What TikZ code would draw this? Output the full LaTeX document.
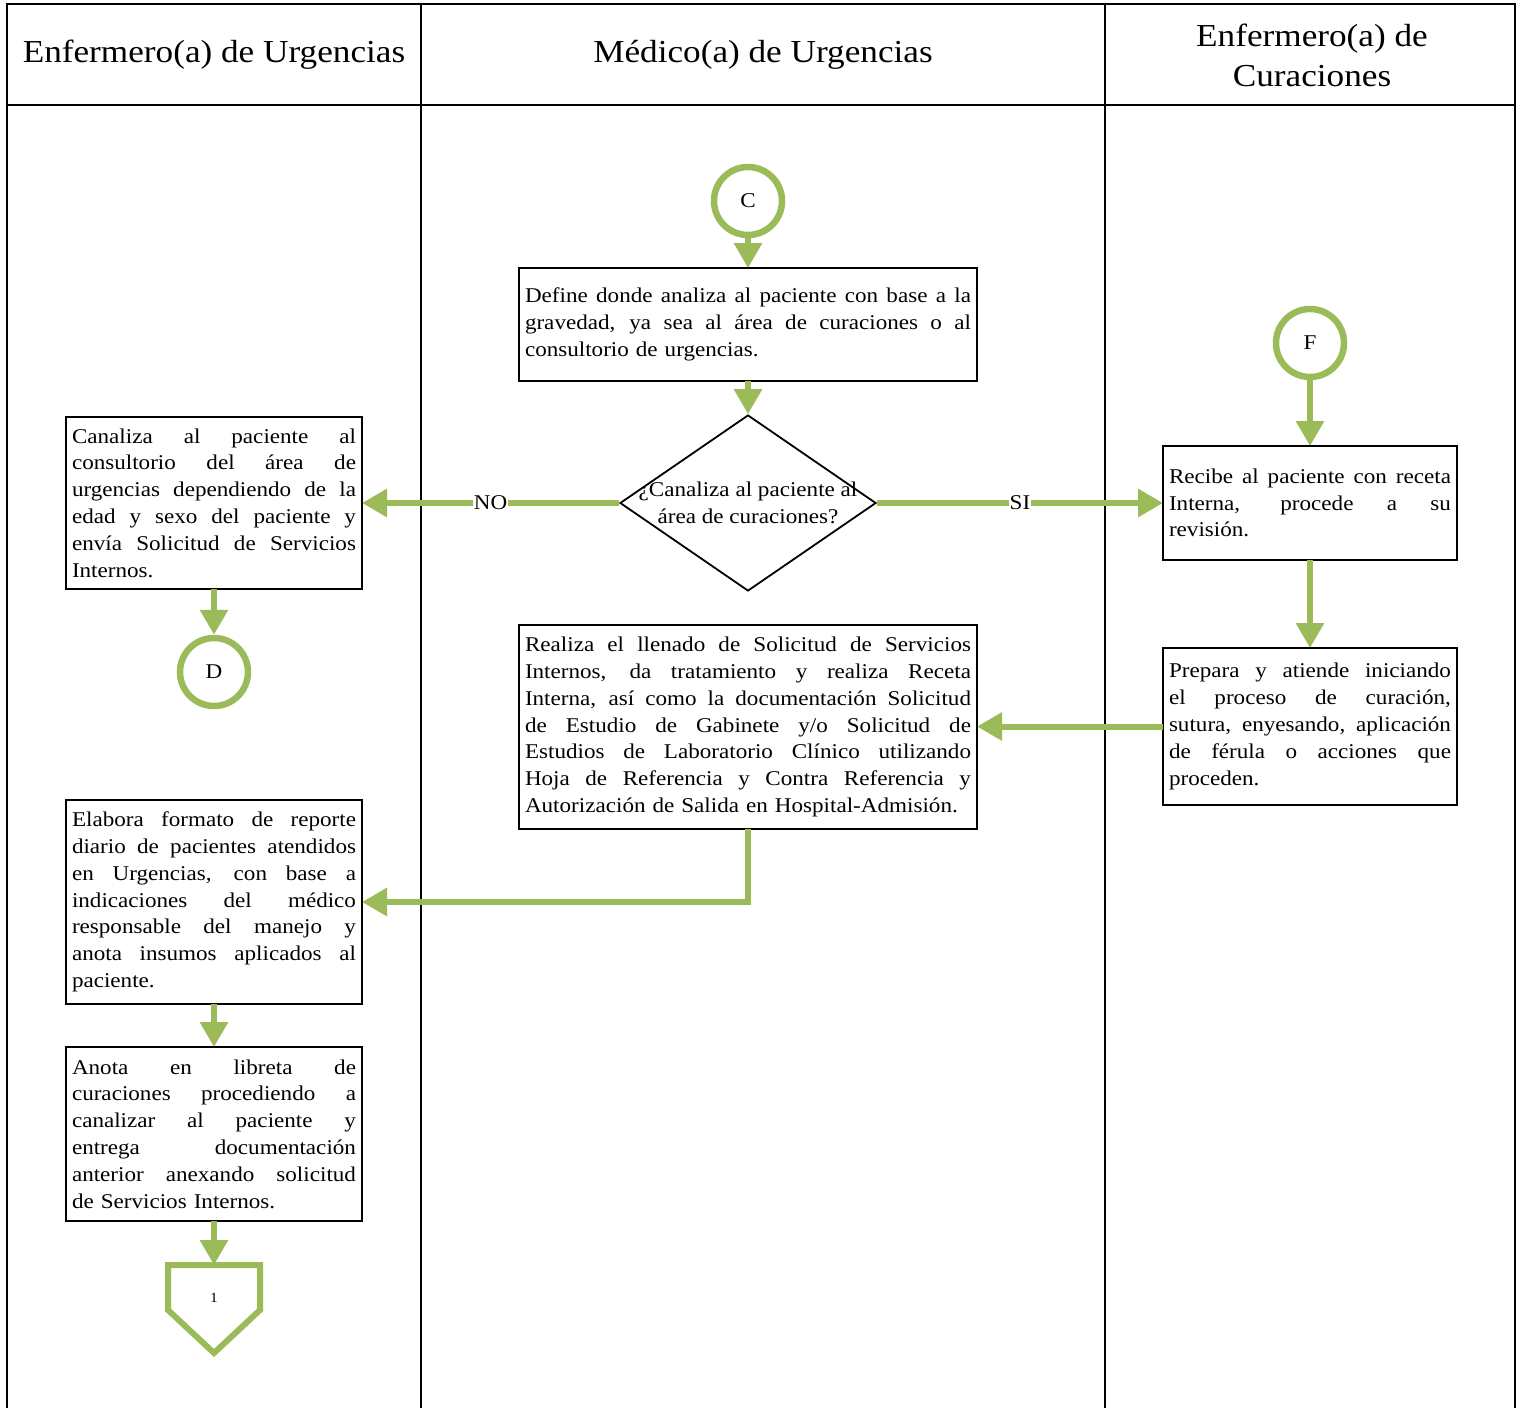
\documentclass[tikz,border=0pt]{standalone}
\usepackage{fontspec}
\setmainfont{Liberation Serif}[FakeStretch=1.1]
\usetikzlibrary{arrows.meta,shapes.geometric}
\definecolor{lgreen}{HTML}{9BBB59}
\newcommand\bodyfont{\fontsize{21}{26.8}\selectfont}
\newcommand\headfont{\fontsize{32}{40}\selectfont}
\newcommand\jl[1]{\hbox to\hsize{\spaceskip=\fontdimen2\font plus 1fil minus \fontdimen4\font\relax #1}}
\newcommand\lastl[1]{\hbox to\hsize{#1\hfil}}
\tikzset{
  box/.style={draw, line width=2.5pt, anchor=north west, outer sep=0pt, inner xsep=6pt, inner ysep=0pt,
              align=left, font=\bodyfont},
  conn/.style={draw=lgreen, line width=6pt, -{Triangle[width=27pt,length=25pt]}},
  circ/.style={circle, draw=lgreen, line width=6.5pt, minimum size=68pt, inner sep=0pt, font=\bodyfont},
  lane/.style={line width=2pt},
  lbl/.style={fill=white, inner sep=1pt, font=\bodyfont},
  head/.style={font=\headfont, align=center},
}
\begin{document}
\begin{tikzpicture}[x=1pt,y=-1pt]
\useasboundingbox (0,0) rectangle (1521,1408);
% swimlanes
\draw[lane] (7,1410) -- (7,4) -- (1515,4) -- (1515,1410);
\draw[lane] (7,105) -- (1515,105);
\draw[lane] (421,4) -- (421,1410);
\draw[lane] (1105,4) -- (1105,1410);
\node[head] (h1) at (214,55) {Enfermero(a) de Urgencias};
\node[head] (h2) at (763,55) {Médico(a) de Urgencias};
\node[head] (h3) at (1312,55) {Enfermero(a) de\\Curaciones};

% nodes
\node[circ] (C) at (748,201) {C};
\node[box, text width=446pt, minimum height=113pt] (define) at (519,268) {\vbox{%
\jl{Define donde analiza al paciente con base a la}%
\jl{gravedad, ya sea al área de curaciones o al}%
\lastl{consultorio de urgencias.}}};
\node[diamond, draw, line width=1.8pt, minimum width=256pt, minimum height=176pt, inner sep=0pt] (dec) at (748,503) {};
\node[font=\bodyfont, align=center] (dectext) at (748,503) {¿Canaliza al paciente al\\área de curaciones?};

\node[box, text width=284pt, minimum height=172pt] (canal) at (66,417) {\vbox{%
\jl{Canaliza al paciente al}%
\jl{consultorio del área de}%
\jl{urgencias dependiendo de la}%
\jl{edad y sexo del paciente y}%
\jl{envía Solicitud de Servicios}%
\lastl{Internos.}}};
\node[circ] (D) at (214,672) {D};

\node[circ] (F) at (1310,343) {F};
\node[box, text width=282pt, minimum height=114pt] (recibe) at (1163,446) {\vbox{%
\jl{Recibe al paciente con receta}%
\jl{Interna, procede a su}%
\lastl{revisión.}}};
\node[box, text width=282pt, minimum height=157pt] (prepara) at (1163,648) {\vbox{%
\jl{Prepara y atiende iniciando}%
\jl{el proceso de curación,}%
\jl{sutura, enyesando, aplicación}%
\jl{de férula o acciones que}%
\lastl{proceden.}}};

\node[box, text width=446pt, minimum height=204pt] (realiza) at (519,625) {\vbox{%
\jl{Realiza el llenado de Solicitud de Servicios}%
\jl{Internos, da tratamiento y realiza Receta}%
\jl{Interna, así como la documentación Solicitud}%
\jl{de Estudio de Gabinete y/o Solicitud de}%
\jl{Estudios de Laboratorio Clínico utilizando}%
\jl{Hoja de Referencia y Contra Referencia y}%
\lastl{Autorización de Salida en Hospital-Admisión.}}};

\node[box, text width=284pt, minimum height=204pt] (elabora) at (66,800) {\vbox{%
\jl{Elabora formato de reporte}%
\jl{diario de pacientes atendidos}%
\jl{en Urgencias, con base a}%
\jl{indicaciones del médico}%
\jl{responsable del manejo y}%
\jl{anota insumos aplicados al}%
\lastl{paciente.}}};
\node[box, text width=284pt, minimum height=174pt] (anota) at (66,1047) {\vbox{%
\jl{Anota en libreta de}%
\jl{curaciones procediendo a}%
\jl{canalizar al paciente y}%
\jl{entrega documentación}%
\jl{anterior anexando solicitud}%
\lastl{de Servicios Internos.}}};

% off-page connector
\coordinate (pTop) at (214,1265);
\draw[draw=lgreen, line width=6pt, line join=miter]
  (168,1265) -- (260,1265) -- (260,1310) -- (214,1353) -- (168,1310) -- cycle;
\node[font=\fontsize{14}{16}\selectfont] (one) at (214,1298) {1};

% connectors
\draw[conn] (C) -- (C |- define.north);
\draw[conn] (define.south -| dec.north) -- (dec.north);
\draw[conn] (dec.west) -- node[lbl] {NO} (canal.east |- dec.west);
\draw[conn] (dec.east) -- node[lbl] {SI} (recibe.west |- dec.east);
\draw[conn] (canal.south -| D) -- (D);
\draw[conn] (F) -- (F |- recibe.north);
\draw[conn] (recibe) -- (prepara);
\draw[conn] (prepara.west) -- (realiza.east |- prepara.west);
\draw[conn] (realiza.south -| dec.south) |- (elabora.east);
\draw[conn] (elabora.south -| D) -- (anota.north -| D);
\draw[conn] (anota.south -| pTop) -- (pTop);
\end{tikzpicture}
\end{document}
